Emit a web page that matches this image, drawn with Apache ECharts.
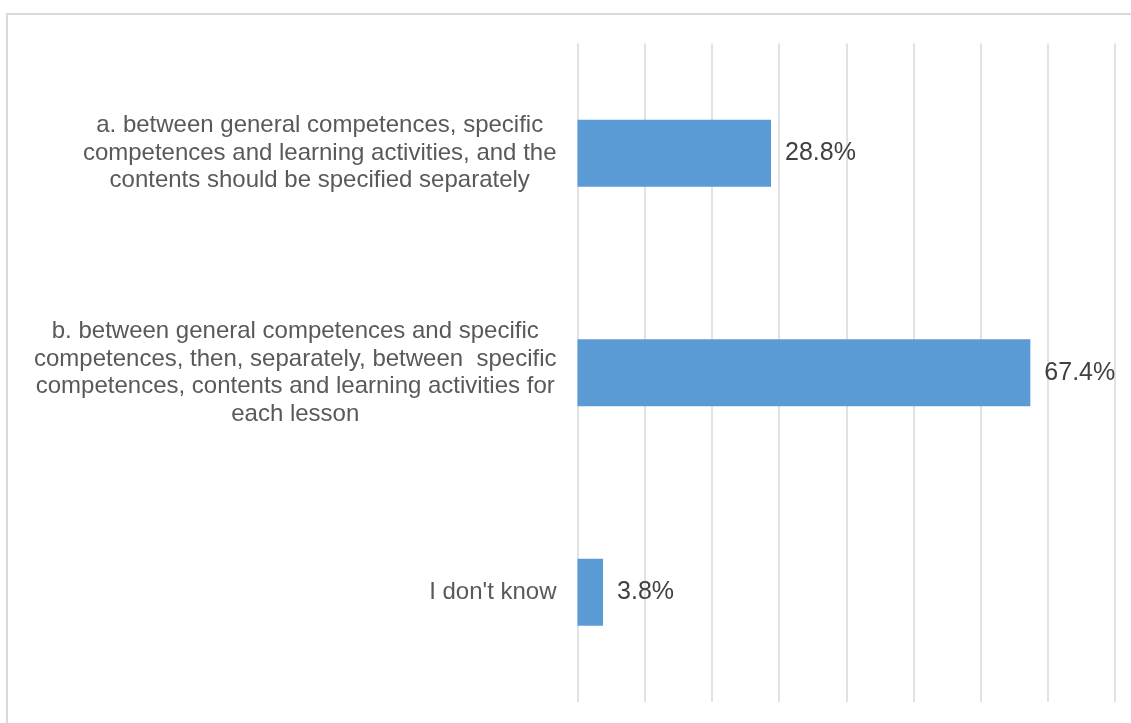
<!DOCTYPE html>
<html>
<head>
<meta charset="utf-8">
<script src="https://cdn.jsdelivr.net/npm/echarts@6/dist/echarts.min.js"></script>
<style>
html,body{margin:0;padding:0;background:#fff;}
#chart{width:1131px;height:723px;}
</style>
</head>
<body>
<div id="chart"></div>
<script>
const categories = [
  "a. between general competences, specific\ncompetences and learning activities, and the\ncontents should be specified separately",
  "b. between general competences and specific\ncompetences, then, separately, between  specific\ncompetences, contents and learning activities for\neach lesson",
  "I don't know"
];
const values = [28.8, 67.4, 3.8];
const axisMin = 0;
const axisMax = 80;
const axisInterval = 10;

const chart = echarts.init(document.getElementById('chart'), null, {renderer: 'canvas'});
const font = '"Liberation Sans", Arial, sans-serif';
chart.setOption({
  animation: false,
  backgroundColor: '#ffffff',
  graphic: [{
    type: 'rect',
    shape: {x: 7, y: 14, width: 1300, height: 900},
    style: {fill: 'none', stroke: '#d9d9d9', lineWidth: 2},
    silent: true,
    z: -10
  }],
  grid: {left: 577.5, right: 16, top: 43.5, bottom: 21, containLabel: false},
  xAxis: {
    type: 'value',
    min: axisMin, max: axisMax, interval: axisInterval,
    axisLabel: {show: false},
    axisLine: {show: false},
    axisTick: {show: false},
    splitLine: {show: true, lineStyle: {color: '#d9d9d9', width: 1.5}}
  },
  yAxis: {
    type: 'category',
    data: categories,
    inverse: true,
    axisLine: {show: false},
    axisTick: {show: false},
    axisLabel: {
      margin: 21,
      formatter: function (v) {
        return v.split('\n').map(function (l) { return '{c|' + l + '}'; }).join('\n');
      },
      rich: {
        c: {align: 'center', fontSize: 24, lineHeight: 27.5, color: '#595959', fontFamily: font}
      }
    }
  },
  series: [{
    type: 'bar',
    data: values,
    barCategoryGap: '69.5%',
    itemStyle: {color: '#5b9bd5'},
    label: {
      show: true,
      position: 'right',
      distance: 14,
      formatter: function (p) { return p.value.toFixed(1) + '%'; },
      fontSize: 25,
      color: '#404040',
      fontFamily: font
    }
  }]
});
</script>
</body>
</html>
